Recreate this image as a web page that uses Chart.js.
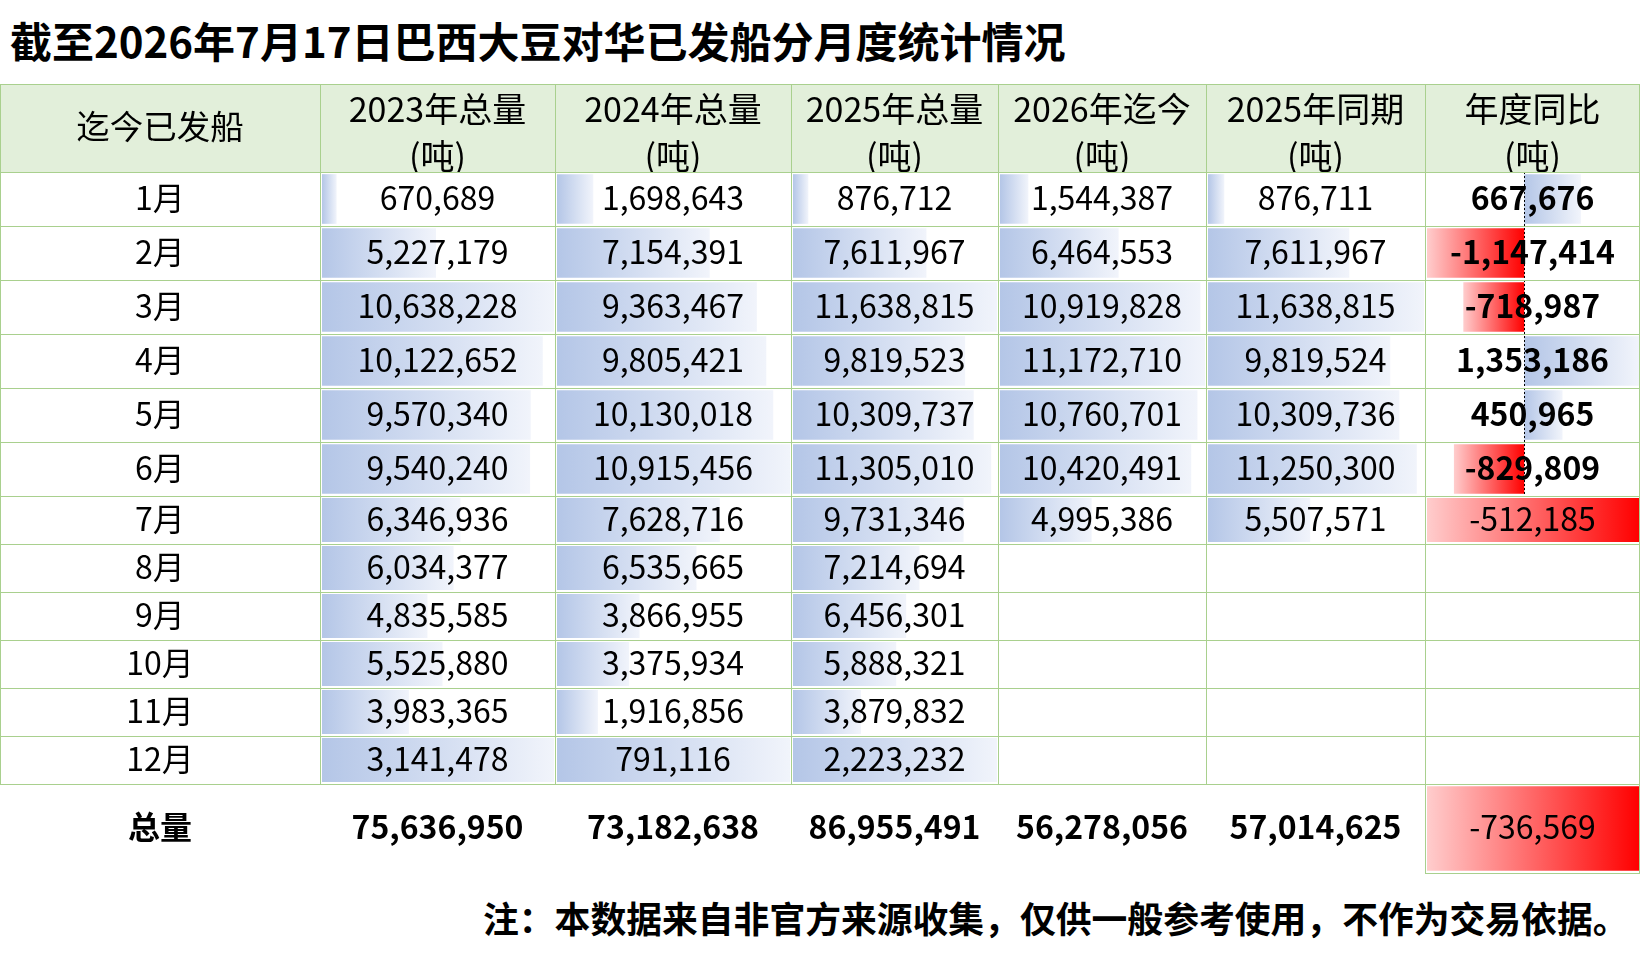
<!DOCTYPE html>
<html lang="zh-CN">
<head>
<meta charset="utf-8">
<title>巴西大豆对华已发船分月度统计</title>
<script src="https://cdn.jsdelivr.net/npm/chart.js@4.4.1/dist/chart.umd.min.js"></script>
<style>
  html, body { margin: 0; padding: 0; background: #fff; }
  body { width: 1641px; height: 964px; overflow: hidden; font-family: "Noto Sans CJK SC", "Noto Sans", sans-serif; color: #000; }
  #page { position: relative; width: 1641px; height: 964px; }
  .abs { position: absolute; white-space: nowrap; }
  #title { left: 10px; top: 12px; font-size: 42px; font-weight: 700; line-height: 56px; }
  #note { left: 483px; top: 892px; font-size: 35.8px; font-weight: 700; line-height: 50px; }
  .hline { position: absolute; height: 1px; background: #A9D08E; z-index: 2; }
  .vline { position: absolute; width: 1px; background: #A9D08E; z-index: 2; }
  .cell { position: absolute; display: flex; align-items: center; justify-content: center; font-size: 32px; white-space: nowrap; z-index: 3; padding-bottom: 7px; box-sizing: border-box; }
  .head { position: absolute; text-align: center; font-size: 34px; line-height: 47px; overflow: hidden; z-index: 3; white-space: nowrap; }
  canvas { position: absolute; z-index: 1; }
</style>
</head>
<body>
<div id="page">
  <div id="title" class="abs">截至2026年7月17日巴西大豆对华已发船分月度统计情况</div>
  <div id="note" class="abs">注：本数据来自非官方来源收集，仅供一般参考使用，不作为交易依据。</div>
</div>
<script>
// 数据
const months = ['1月', '2月', '3月', '4月', '5月', '6月', '7月', '8月', '9月', '10月', '11月', '12月'];
const firstHead = '迄今已发船';
const headers = ['2023年总量', '2024年总量', '2025年总量', '2026年迄今', '2025年同期', '年度同比'];
const unitLabel = '(吨)';
const totalLabel = '总量';

const ship2023 = [670689, 5227179, 10638228, 10122652, 9570340, 9540240, 6346936, 6034377, 4835585, 5525880, 3983365, 3141478];
const ship2024 = [1698643, 7154391, 9363467, 9805421, 10130018, 10915456, 7628716, 6535665, 3866955, 3375934, 1916856, 791116];
const ship2025 = [876712, 7611967, 11638815, 9819523, 10309737, 11305010, 9731346, 7214694, 6456301, 5888321, 3879832, 2223232];
const ship2026 = [1544387, 6464553, 10919828, 11172710, 10760701, 10420491, 4995386];
const same2025 = [876711, 7611967, 11638815, 9819524, 10309736, 11250300, 5507571];
const yoyDiff = [667676, -1147414, -718987, 1353186, 450965, -829809, -512185];
const totals = [75636950, 73182638, 86955491, 56278056, 57014625];
const totalYoy = -736569;

// 版式
const colX = [0, 320, 555, 791, 998, 1206, 1425, 1640];
const rowY = [84, 172, 226, 280, 334, 388, 442, 496, 544, 592, 640, 688, 736, 784, 873];
const page = document.getElementById('page');

const BLUE0 = '#B4C6E7', BLUE1 = '#F1F4FB', RED0 = '#FF0000', RED1 = '#FFCDCD';

function fmt(v) {
    return v.toLocaleString('en-US');
}

function addDiv(cls, x, y, w, h, text, weight) {
    const d = document.createElement('div');
    d.className = cls;
    d.style.left = x + 'px';
    d.style.top = y + 'px';
    if (w != null) d.style.width = w + 'px';
    if (h != null) d.style.height = h + 'px';
    if (text != null) d.textContent = text;
    if (weight) d.style.fontWeight = weight;
    page.appendChild(d);
    return d;
}

// 表头底色与网格
const hb = addDiv('abs', 0, rowY[0], colX[7], rowY[1] - rowY[0]);
hb.style.background = '#E2EFDA';
for (let i = 0; i <= 13; i++) addDiv('hline', 0, rowY[i], colX[7], null);
for (let i = 0; i < colX.length; i++) addDiv('vline', Math.min(colX[i], 1639), rowY[0], null, rowY[13] - rowY[0]);
addDiv('vline', colX[6], rowY[13], null, rowY[14] - rowY[13]);
addDiv('vline', 1639, rowY[13], null, rowY[14] - rowY[13] + 1);
addDiv('hline', colX[6], rowY[14], colX[7] - colX[6], null);

// 渐变数据条
function barFill(c) {
    const chart = c.chart, xs = chart.scales.x, v = c.raw;
    if (!xs || v == null) return BLUE0;
    const a = xs.getPixelForValue(0);
    let b = xs.getPixelForValue(v);
    if (!isFinite(a) || !isFinite(b)) return v < 0 ? RED0 : BLUE0;
    if (b === a) b = a + 1;
    const g = chart.ctx.createLinearGradient(a, 0, b, 0);
    g.addColorStop(0, v < 0 ? RED0 : BLUE0);
    g.addColorStop(1, v < 0 ? RED1 : BLUE1);
    return g;
}

const zeroLine = {
    id: 'zeroLine',
    afterDatasetsDraw(chart, args, opts) {
        if (!opts.show) return;
        const ctx = chart.ctx;
        const x = Math.round(chart.scales.x.getPixelForValue(0)) + 0.5;
        ctx.save();
        ctx.setLineDash([2, 2]);
        ctx.strokeStyle = '#000';
        ctx.lineWidth = 1;
        ctx.beginPath();
        ctx.moveTo(x, 0);
        ctx.lineTo(x, chart.height);
        ctx.stroke();
        ctx.restore();
    }
};

function makeBars(col, r0, r1, labels, values, min, max, pct, zero) {
    const cv = document.createElement('canvas');
    const x = colX[col] + 2, w = colX[col + 1] - colX[col] - 3;
    const y = rowY[r0], h = rowY[r1 + 1] - rowY[r0];
    cv.width = w;
    cv.height = h;
    cv.style.left = x + 'px';
    cv.style.top = y + 'px';
    cv.style.width = w + 'px';
    cv.style.height = h + 'px';
    page.appendChild(cv);
    return new Chart(cv, {
        type: 'bar',
        data: {
            labels: labels,
            datasets: [{ data: values, backgroundColor: barFill, borderWidth: 0, categoryPercentage: 1, barPercentage: pct }]
        },
        options: {
            indexAxis: 'y',
            responsive: false,
            animation: false,
            events: [],
            layout: { padding: 0 },
            plugins: { legend: { display: false }, tooltip: { enabled: false }, zeroLine: { show: !!zero } },
            scales: {
                x: { type: 'linear', display: false, min: min, max: max },
                y: { type: 'category', display: false }
            }
        },
        plugins: [zeroLine]
    });
}

// 2023-2025 全年列: 1-11月共用一个刻度, 12月单独
[ship2023, ship2024, ship2025].forEach((arr, i) => {
    const col = i + 1;
    const top = Math.max(...arr.slice(0, 11));
    makeBars(col, 1, 6, months.slice(0, 6), arr.slice(0, 6), 0, top, 0.92);
    makeBars(col, 7, 11, months.slice(6, 11), arr.slice(6, 11), 0, top, 0.92);
    makeBars(col, 12, 12, months.slice(11), arr.slice(11), 0, arr[11], 0.92);
});

// 2026 迄今 与 2025 同期: 1-7月
[ship2026, same2025].forEach((arr, i) => {
    const col = i + 4;
    const top = Math.max(...arr);
    makeBars(col, 1, 6, months.slice(0, 6), arr.slice(0, 6), 0, top, 0.92);
    makeBars(col, 7, 7, months.slice(6, 7), arr.slice(6, 7), 0, top, 0.92);
});

// 年度同比
const yoyHead = yoyDiff.slice(0, 6);
makeBars(6, 1, 6, months.slice(0, 6), yoyHead, Math.min(...yoyHead), Math.max(...yoyHead), 0.92, true);
makeBars(6, 7, 7, months.slice(6, 7), yoyDiff.slice(6, 7), yoyDiff[6], 0, 0.92);
makeBars(6, 13, 13, [totalLabel], [totalYoy], totalYoy, 0, 0.95);

// 文字
const fh = addDiv('cell', colX[0], rowY[0], colX[1] - colX[0], rowY[1] - rowY[0], firstHead);
fh.style.fontSize = '33.5px';
headers.forEach((t, i) => {
    const d = addDiv('head', colX[i + 1], rowY[0], colX[i + 2] - colX[i + 1], rowY[1] - rowY[0]);
    d.innerHTML = t + '<br>' + unitLabel;
});

const columns = [ship2023, ship2024, ship2025, ship2026, same2025, yoyDiff];
months.forEach((m, r) => {
    const y = rowY[r + 1], h = rowY[r + 2] - rowY[r + 1];
    addDiv('cell', colX[0], y, colX[1] - colX[0], h, m);
    columns.forEach((arr, c) => {
        if (arr[r] == null) return;
        const bold = (c === 5 && r < 6) ? 700 : null;
        addDiv('cell', colX[c + 1], y, colX[c + 2] - colX[c + 1], h, fmt(arr[r]), bold);
    });
});

const ty = rowY[13], th = rowY[14] - rowY[13];
addDiv('cell', colX[0], ty, colX[1] - colX[0], th, totalLabel, 700);
totals.forEach((v, c) => addDiv('cell', colX[c + 1], ty, colX[c + 2] - colX[c + 1], th, fmt(v), 700));
addDiv('cell', colX[6], ty, colX[7] - colX[6], th, fmt(totalYoy));
</script>
</body>
</html>
